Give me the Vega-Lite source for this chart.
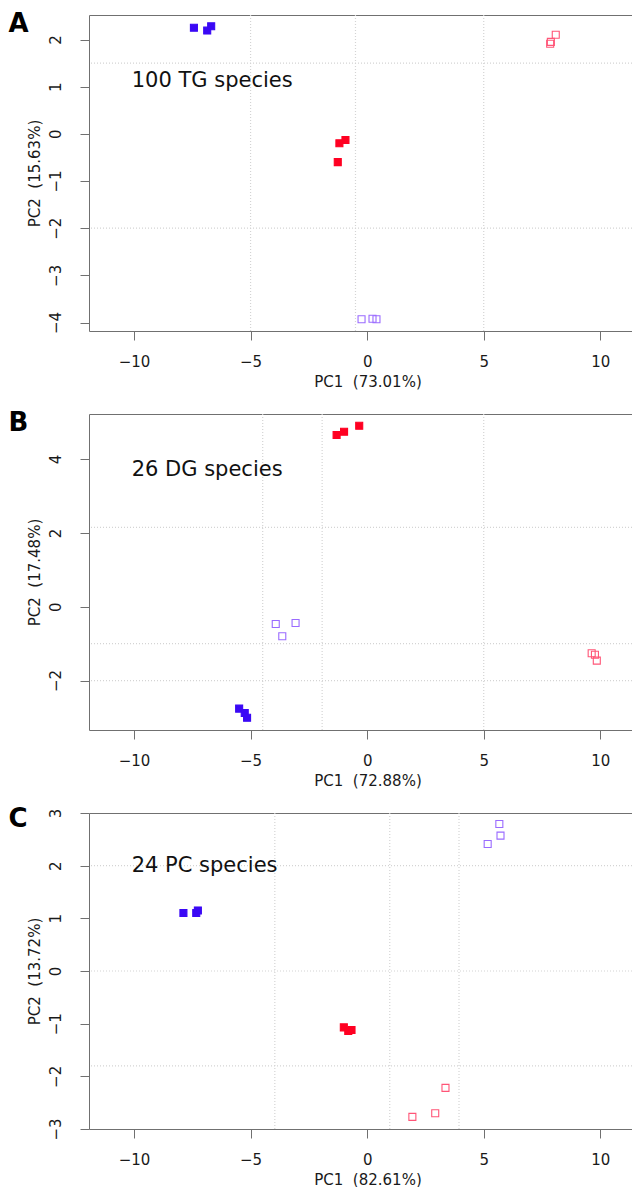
{
  "$schema": "https://vega.github.io/schema/vega-lite/v6.json",
  "padding": {"left": 8, "top": 10, "right": 0, "bottom": 0},
  "background": "white",
  "config": {
    "font": "DejaVu Sans",
    "view": {"stroke": null},
    "axis": {"grid": false, "domainColor": "#707070", "tickColor": "#707070", "labelColor": "#1a1a1a", "titleColor": "#1a1a1a", "labelFont": "DejaVu Sans", "titleFont": "DejaVu Sans", "titleFontWeight": "normal", "labelFontSize": 15, "titleFontSize": 15, "tickSize": 9, "labelFlush": false, "labelOverlap": false, "labelBound": false},
    "axisBottom": {"labelPadding": 14, "titlePadding": 5, "titleX": 278.5},
    "axisLeft": {"labelAngle": -90, "labelAlign": "center", "labelBaseline": "bottom", "labelPadding": 17, "titlePadding": 6}
  },
  "datasets": {
    "pts": [
      {"panel": "A", "group": "blue", "pc1": -7.43, "pc2": 2.25},
      {"panel": "A", "group": "blue", "pc1": -6.86, "pc2": 2.19},
      {"panel": "A", "group": "blue", "pc1": -6.69, "pc2": 2.28},
      {"panel": "A", "group": "red", "pc1": -1.19, "pc2": -0.2},
      {"panel": "A", "group": "red", "pc1": -0.93, "pc2": -0.13},
      {"panel": "A", "group": "red", "pc1": -1.26, "pc2": -0.6},
      {"panel": "A", "group": "pink", "pc1": 7.85, "pc2": 1.91},
      {"panel": "A", "group": "pink", "pc1": 8.09, "pc2": 2.1},
      {"panel": "A", "group": "pink", "pc1": 7.88, "pc2": 1.95},
      {"panel": "A", "group": "purple", "pc1": -0.24, "pc2": -3.93},
      {"panel": "A", "group": "purple", "pc1": 0.23, "pc2": -3.92},
      {"panel": "A", "group": "purple", "pc1": 0.4, "pc2": -3.93},
      {"panel": "B", "group": "red", "pc1": -1.31, "pc2": 4.65},
      {"panel": "B", "group": "red", "pc1": -0.99, "pc2": 4.74},
      {"panel": "B", "group": "red", "pc1": -0.34, "pc2": 4.9},
      {"panel": "B", "group": "blue", "pc1": -5.49, "pc2": -2.76},
      {"panel": "B", "group": "blue", "pc1": -5.25, "pc2": -2.88},
      {"panel": "B", "group": "blue", "pc1": -5.15, "pc2": -3.01},
      {"panel": "B", "group": "purple", "pc1": -3.92, "pc2": -0.47},
      {"panel": "B", "group": "purple", "pc1": -3.64, "pc2": -0.8},
      {"panel": "B", "group": "purple", "pc1": -3.07, "pc2": -0.44},
      {"panel": "B", "group": "pink", "pc1": 9.63, "pc2": -1.26},
      {"panel": "B", "group": "pink", "pc1": 9.77, "pc2": -1.3},
      {"panel": "B", "group": "pink", "pc1": 9.85, "pc2": -1.46},
      {"panel": "C", "group": "blue", "pc1": -7.88, "pc2": 1.1},
      {"panel": "C", "group": "blue", "pc1": -7.33, "pc2": 1.1},
      {"panel": "C", "group": "blue", "pc1": -7.26, "pc2": 1.15},
      {"panel": "C", "group": "red", "pc1": -1.0, "pc2": -1.07},
      {"panel": "C", "group": "red", "pc1": -0.81, "pc2": -1.14},
      {"panel": "C", "group": "red", "pc1": -0.67, "pc2": -1.12},
      {"panel": "C", "group": "purple", "pc1": 5.17, "pc2": 2.41},
      {"panel": "C", "group": "purple", "pc1": 5.67, "pc2": 2.79},
      {"panel": "C", "group": "purple", "pc1": 5.72, "pc2": 2.57},
      {"panel": "C", "group": "pink", "pc1": 1.94, "pc2": -2.77},
      {"panel": "C", "group": "pink", "pc1": 2.92, "pc2": -2.7},
      {"panel": "C", "group": "pink", "pc1": 3.36, "pc2": -2.22}
    ],
    "grid": [
      {"panel": "A", "dir": "v", "value": -5},
      {"panel": "A", "dir": "v", "value": -0.5},
      {"panel": "A", "dir": "v", "value": 5},
      {"panel": "A", "dir": "h", "value": 1.5},
      {"panel": "A", "dir": "h", "value": -2},
      {"panel": "B", "dir": "v", "value": -4.48},
      {"panel": "B", "dir": "v", "value": -1.93},
      {"panel": "B", "dir": "v", "value": 5},
      {"panel": "B", "dir": "h", "value": 2.15},
      {"panel": "B", "dir": "h", "value": -1.0},
      {"panel": "B", "dir": "h", "value": -2.0},
      {"panel": "C", "dir": "v", "value": -3.96},
      {"panel": "C", "dir": "v", "value": 0.97},
      {"panel": "C", "dir": "v", "value": 3.94},
      {"panel": "C", "dir": "h", "value": 2.0},
      {"panel": "C", "dir": "h", "value": 0},
      {"panel": "C", "dir": "h", "value": -1.8}
    ],
    "ann": [
      {"panel": "A", "kind": "note", "x": -10.1, "y": 1.12, "label": "100 TG species"},
      {"panel": "B", "kind": "note", "x": -10.1, "y": 3.7, "label": "26 DG species"},
      {"panel": "C", "kind": "note", "x": -10.1, "y": 2.0, "label": "24 PC species"},
      {"panel": "A", "kind": "letter", "x": -15.38, "y": 2.33, "label": "A"},
      {"panel": "B", "kind": "letter", "x": -15.38, "y": 4.97, "label": "B"},
      {"panel": "C", "kind": "letter", "x": -15.38, "y": 2.88, "label": "C"}
    ]
  },
  "vconcat": [
    {
      "width": 543, "height": 316,
      "layer": [
        {"data": {"name": "grid"}, "transform": [{"filter": "datum.panel === 'A' && datum.dir === 'v'"}],
         "mark": {"type": "rule", "color": "#d4d4d4", "strokeDash": [1, 2], "strokeWidth": 1.2},
         "encoding": {"x": {"field": "value", "type": "quantitative", "scale": {"domain": [-11.93, 11.36], "nice": false, "zero": false}, "axis": {"orient": "top", "labels": false, "ticks": false, "domain": true, "title": null}}}},
        {"data": {"name": "grid"}, "transform": [{"filter": "datum.panel === 'A' && datum.dir === 'h'"}],
         "mark": {"type": "rule", "color": "#d4d4d4", "strokeDash": [1, 2], "strokeWidth": 1.2},
         "encoding": {"y": {"field": "value", "type": "quantitative", "scale": {"domain": [-4.18, 2.52], "nice": false, "zero": false}, "axis": {"values": [-4, -3, -2, -1, 0, 1, 2], "title": "PC2\u00a0\u00a0(15.63%)"}}}},
        {"data": {"name": "pts"}, "transform": [{"filter": "datum.panel === 'A'"}],
         "mark": {"type": "point", "shape": "square", "size": 49, "strokeWidth": 1.1, "opacity": 1, "filled": false},
         "encoding": {
           "x": {"field": "pc1", "type": "quantitative", "scale": {"domain": [-11.93, 11.36], "nice": false, "zero": false}, "axis": {"orient": "bottom", "values": [-10, -5, 0, 5, 10], "title": "PC1\u00a0\u00a0(73.01%)"}},
           "y": {"field": "pc2", "type": "quantitative", "scale": {"domain": [-4.18, 2.52], "nice": false, "zero": false}, "axis": {"values": [-4, -3, -2, -1, 0, 1, 2], "title": "PC2\u00a0\u00a0(15.63%)"}},
           "fill": {"field": "group", "type": "nominal", "scale": {"domain": ["blue", "red", "pink", "purple"], "range": ["#3a08f5", "#ff0022", "transparent", "transparent"]}, "legend": null},
           "stroke": {"field": "group", "type": "nominal", "scale": {"domain": ["blue", "red", "pink", "purple"], "range": ["#3a08f5", "#ff0022", "#ff5577", "#9a6bff"]}, "legend": null}
         }},
        {"data": {"name": "ann"}, "transform": [{"filter": "datum.panel === 'A' && datum.kind === 'note'"}],
         "mark": {"type": "text", "align": "left", "baseline": "middle", "fontSize": 21, "color": "#111"},
         "encoding": {"x": {"field": "x", "type": "quantitative", "scale": {"domain": [-11.93, 11.36], "nice": false, "zero": false}, "axis": null},
                      "y": {"field": "y", "type": "quantitative", "scale": {"domain": [-4.18, 2.52], "nice": false, "zero": false}, "axis": {"values": [-4, -3, -2, -1, 0, 1, 2], "title": "PC2\u00a0\u00a0(15.63%)"}},
                      "text": {"field": "label"}}},
        {"data": {"name": "ann"}, "transform": [{"filter": "datum.panel === 'A' && datum.kind === 'letter'"}],
         "mark": {"type": "text", "align": "left", "baseline": "middle", "fontSize": 26, "fontWeight": "bold", "color": "#000"},
         "encoding": {"x": {"field": "x", "type": "quantitative", "scale": {"domain": [-11.93, 11.36], "nice": false, "zero": false}, "axis": null},
                      "y": {"field": "y", "type": "quantitative", "scale": {"domain": [-4.18, 2.52], "nice": false, "zero": false}, "axis": {"values": [-4, -3, -2, -1, 0, 1, 2], "title": "PC2\u00a0\u00a0(15.63%)"}},
                      "text": {"field": "label"}}}
      ],
      "resolve": {"axis": {"x": "independent"}}
    },
    {
      "width": 543, "height": 316,
      "layer": [
        {"data": {"name": "grid"}, "transform": [{"filter": "datum.panel === 'B' && datum.dir === 'v'"}],
         "mark": {"type": "rule", "color": "#d4d4d4", "strokeDash": [1, 2], "strokeWidth": 1.2},
         "encoding": {"x": {"field": "value", "type": "quantitative", "scale": {"domain": [-11.93, 11.36], "nice": false, "zero": false}, "axis": {"orient": "top", "labels": false, "ticks": false, "domain": true, "title": null}}}},
        {"data": {"name": "grid"}, "transform": [{"filter": "datum.panel === 'B' && datum.dir === 'h'"}],
         "mark": {"type": "rule", "color": "#d4d4d4", "strokeDash": [1, 2], "strokeWidth": 1.2},
         "encoding": {"y": {"field": "value", "type": "quantitative", "scale": {"domain": [-3.34, 5.22], "nice": false, "zero": false}, "axis": {"values": [-2, 0, 2, 4], "title": "PC2\u00a0\u00a0(17.48%)"}}}},
        {"data": {"name": "pts"}, "transform": [{"filter": "datum.panel === 'B'"}],
         "mark": {"type": "point", "shape": "square", "size": 49, "strokeWidth": 1.1, "opacity": 1, "filled": false},
         "encoding": {
           "x": {"field": "pc1", "type": "quantitative", "scale": {"domain": [-11.93, 11.36], "nice": false, "zero": false}, "axis": {"orient": "bottom", "values": [-10, -5, 0, 5, 10], "title": "PC1\u00a0\u00a0(72.88%)"}},
           "y": {"field": "pc2", "type": "quantitative", "scale": {"domain": [-3.34, 5.22], "nice": false, "zero": false}, "axis": {"values": [-2, 0, 2, 4], "title": "PC2\u00a0\u00a0(17.48%)"}},
           "fill": {"field": "group", "type": "nominal", "scale": {"domain": ["blue", "red", "pink", "purple"], "range": ["#3a08f5", "#ff0022", "transparent", "transparent"]}, "legend": null},
           "stroke": {"field": "group", "type": "nominal", "scale": {"domain": ["blue", "red", "pink", "purple"], "range": ["#3a08f5", "#ff0022", "#ff5577", "#9a6bff"]}, "legend": null}
         }},
        {"data": {"name": "ann"}, "transform": [{"filter": "datum.panel === 'B' && datum.kind === 'note'"}],
         "mark": {"type": "text", "align": "left", "baseline": "middle", "fontSize": 21, "color": "#111"},
         "encoding": {"x": {"field": "x", "type": "quantitative", "scale": {"domain": [-11.93, 11.36], "nice": false, "zero": false}, "axis": null},
                      "y": {"field": "y", "type": "quantitative", "scale": {"domain": [-3.34, 5.22], "nice": false, "zero": false}, "axis": {"values": [-2, 0, 2, 4], "title": "PC2\u00a0\u00a0(17.48%)"}},
                      "text": {"field": "label"}}},
        {"data": {"name": "ann"}, "transform": [{"filter": "datum.panel === 'B' && datum.kind === 'letter'"}],
         "mark": {"type": "text", "align": "left", "baseline": "middle", "fontSize": 26, "fontWeight": "bold", "color": "#000"},
         "encoding": {"x": {"field": "x", "type": "quantitative", "scale": {"domain": [-11.93, 11.36], "nice": false, "zero": false}, "axis": null},
                      "y": {"field": "y", "type": "quantitative", "scale": {"domain": [-3.34, 5.22], "nice": false, "zero": false}, "axis": {"values": [-2, 0, 2, 4], "title": "PC2\u00a0\u00a0(17.48%)"}},
                      "text": {"field": "label"}}}
      ],
      "resolve": {"axis": {"x": "independent"}}
    },
    {
      "width": 543, "height": 316,
      "layer": [
        {"data": {"name": "grid"}, "transform": [{"filter": "datum.panel === 'C' && datum.dir === 'v'"}],
         "mark": {"type": "rule", "color": "#d4d4d4", "strokeDash": [1, 2], "strokeWidth": 1.2},
         "encoding": {"x": {"field": "value", "type": "quantitative", "scale": {"domain": [-11.93, 11.36], "nice": false, "zero": false}, "axis": {"orient": "top", "labels": false, "ticks": false, "domain": true, "title": null}}}},
        {"data": {"name": "grid"}, "transform": [{"filter": "datum.panel === 'C' && datum.dir === 'h'"}],
         "mark": {"type": "rule", "color": "#d4d4d4", "strokeDash": [1, 2], "strokeWidth": 1.2},
         "encoding": {"y": {"field": "value", "type": "quantitative", "scale": {"domain": [-3, 3], "nice": false, "zero": false}, "axis": {"values": [-3, -2, -1, 0, 1, 2, 3], "title": "PC2\u00a0\u00a0(13.72%)"}}}},
        {"data": {"name": "pts"}, "transform": [{"filter": "datum.panel === 'C'"}],
         "mark": {"type": "point", "shape": "square", "size": 49, "strokeWidth": 1.1, "opacity": 1, "filled": false},
         "encoding": {
           "x": {"field": "pc1", "type": "quantitative", "scale": {"domain": [-11.93, 11.36], "nice": false, "zero": false}, "axis": {"orient": "bottom", "values": [-10, -5, 0, 5, 10], "title": "PC1\u00a0\u00a0(82.61%)"}},
           "y": {"field": "pc2", "type": "quantitative", "scale": {"domain": [-3, 3], "nice": false, "zero": false}, "axis": {"values": [-3, -2, -1, 0, 1, 2, 3], "title": "PC2\u00a0\u00a0(13.72%)"}},
           "fill": {"field": "group", "type": "nominal", "scale": {"domain": ["blue", "red", "pink", "purple"], "range": ["#3a08f5", "#ff0022", "transparent", "transparent"]}, "legend": null},
           "stroke": {"field": "group", "type": "nominal", "scale": {"domain": ["blue", "red", "pink", "purple"], "range": ["#3a08f5", "#ff0022", "#ff5577", "#9a6bff"]}, "legend": null}
         }},
        {"data": {"name": "ann"}, "transform": [{"filter": "datum.panel === 'C' && datum.kind === 'note'"}],
         "mark": {"type": "text", "align": "left", "baseline": "middle", "fontSize": 21, "color": "#111"},
         "encoding": {"x": {"field": "x", "type": "quantitative", "scale": {"domain": [-11.93, 11.36], "nice": false, "zero": false}, "axis": null},
                      "y": {"field": "y", "type": "quantitative", "scale": {"domain": [-3, 3], "nice": false, "zero": false}, "axis": {"values": [-3, -2, -1, 0, 1, 2, 3], "title": "PC2\u00a0\u00a0(13.72%)"}},
                      "text": {"field": "label"}}},
        {"data": {"name": "ann"}, "transform": [{"filter": "datum.panel === 'C' && datum.kind === 'letter'"}],
         "mark": {"type": "text", "align": "left", "baseline": "middle", "fontSize": 26, "fontWeight": "bold", "color": "#000"},
         "encoding": {"x": {"field": "x", "type": "quantitative", "scale": {"domain": [-11.93, 11.36], "nice": false, "zero": false}, "axis": null},
                      "y": {"field": "y", "type": "quantitative", "scale": {"domain": [-3, 3], "nice": false, "zero": false}, "axis": {"values": [-3, -2, -1, 0, 1, 2, 3], "title": "PC2\u00a0\u00a0(13.72%)"}},
                      "text": {"field": "label"}}}
      ],
      "resolve": {"axis": {"x": "independent"}}
    }
  ],
  "spacing": 83,
  "bounds": "flush"
}
